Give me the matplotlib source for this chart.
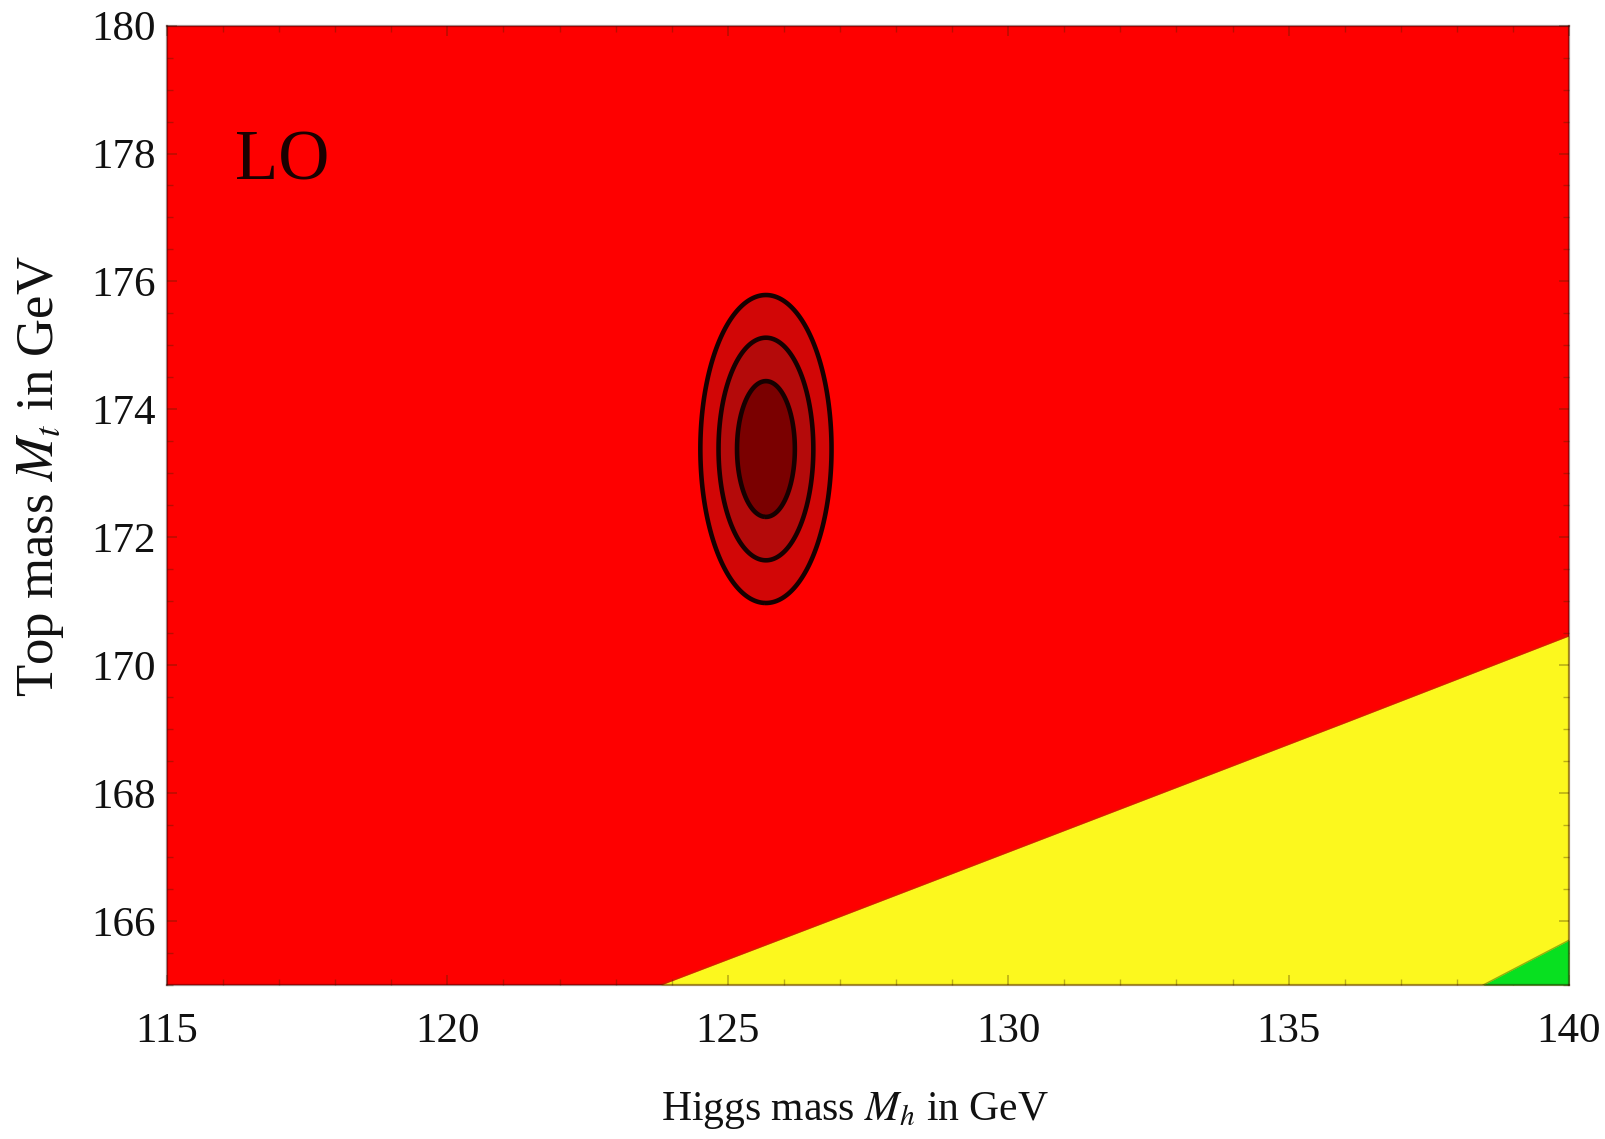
import numpy as np
import matplotlib
matplotlib.use("Agg")
import matplotlib.pyplot as plt
from matplotlib.ticker import MultipleLocator

# Plot range
mh_range = [115, 140]
mt_range = [165, 180]

# Boundary between the unstable (red) and metastable (yellow) regions
mh_meta = [123.8, 127.0, 130.0, 133.0, 136.0, 140.0]
mt_meta = [165.0, 166.07, 167.08, 168.09, 169.10, 170.46]

# Boundary of the stable (green) region
mh_stable = [138.47, 140.0]
mt_stable = [165.0, 165.7]

# Measured Higgs and top masses with their uncertainties
mh_best, mh_sigma = 125.68, 0.34
mt_best, mt_sigma = 173.38, 0.70
# Delta chi^2 for 1, 2 and 3 sigma in two parameters
chi2_levels = [2.30, 6.18, 11.83]

x_ticks = [115, 120, 125, 130, 135, 140]
y_ticks = [166, 168, 170, 172, 174, 176, 178, 180]

red = "#fe0000"
yellow = "#fcf81e"
green = "#08e020"
ellipse_fills = ["#7a0000", "#b40a0a", "#d20606"]

plt.rcParams["font.family"] = ["Liberation Serif", "DejaVu Serif"]
plt.rcParams["mathtext.fontset"] = "stix"

fig = plt.figure(figsize=(16.05, 11.39), dpi=100)
ax = fig.add_axes([0.10405, 0.13521, 0.87352, 0.84232])
ax.set_xlim(*mh_range)
ax.set_ylim(*mt_range)
ax.set_facecolor(red)

# Metastable and stable regions
ax.fill_between(mh_meta, mt_range[0], mt_meta, color=yellow, lw=0, zorder=1)
ax.plot(mh_meta, mt_meta, color="#c03000", lw=1.2, alpha=0.6, zorder=1.5)
ax.fill_between(mh_stable, mt_range[0], mt_stable, color=green, lw=0, zorder=2)
ax.plot(mh_stable, mt_stable, color="#508000", lw=1.0, alpha=0.6, zorder=2.5)

# Confidence contours around the measured masses
gx = np.linspace(mh_range[0], mh_range[1], 900)
gy = np.linspace(mt_range[0], mt_range[1], 900)
X, Y = np.meshgrid(gx, gy)
chi2 = ((X - mh_best) / mh_sigma) ** 2 + ((Y - mt_best) / mt_sigma) ** 2
ax.contourf(X, Y, chi2, levels=[0] + chi2_levels, colors=ellipse_fills, zorder=3)
ax.contour(X, Y, chi2, levels=chi2_levels, colors="#160000", linewidths=3.3, zorder=4)

ax.text(117.05, 177.86, "LO", fontsize=51, ha="center", va="center",
        color="#1a0000", zorder=5)

# Frame and ticks
ax.set_xticks(x_ticks)
ax.set_yticks(y_ticks)
ax.xaxis.set_minor_locator(MultipleLocator(1))
ax.yaxis.set_minor_locator(MultipleLocator(0.5))
ax.tick_params(which="both", direction="in", top=True, right=True,
               color=(0.25, 0.15, 0.0, 0.35))
ax.tick_params(which="major", length=7, width=1.2)
ax.tick_params(which="minor", length=4, width=1.0)
ax.tick_params(axis="x", which="major", labelsize=31, pad=20, labelcolor="#111111")
ax.tick_params(axis="y", which="major", labelsize=31, pad=8, labelcolor="#111111")
for side in ax.spines.values():
    side.set_color((0.2, 0.0, 0.0, 0.45))
    side.set_linewidth(1.6)
    side.set_zorder(6)

ax.set_xlabel(r"Higgs mass $M_h$ in GeV", fontsize=30, color="#111111")
ax.xaxis.set_label_coords(0.491, -0.131)
ax.xaxis.label.set_va("center")
ax.set_ylabel(r"Top mass $M_t$ in GeV", fontsize=38, color="#111111")
ax.yaxis.set_label_coords(-0.09, 0.53)
ax.yaxis.label.set_va("center")

fig.savefig("out.png", dpi=100)
